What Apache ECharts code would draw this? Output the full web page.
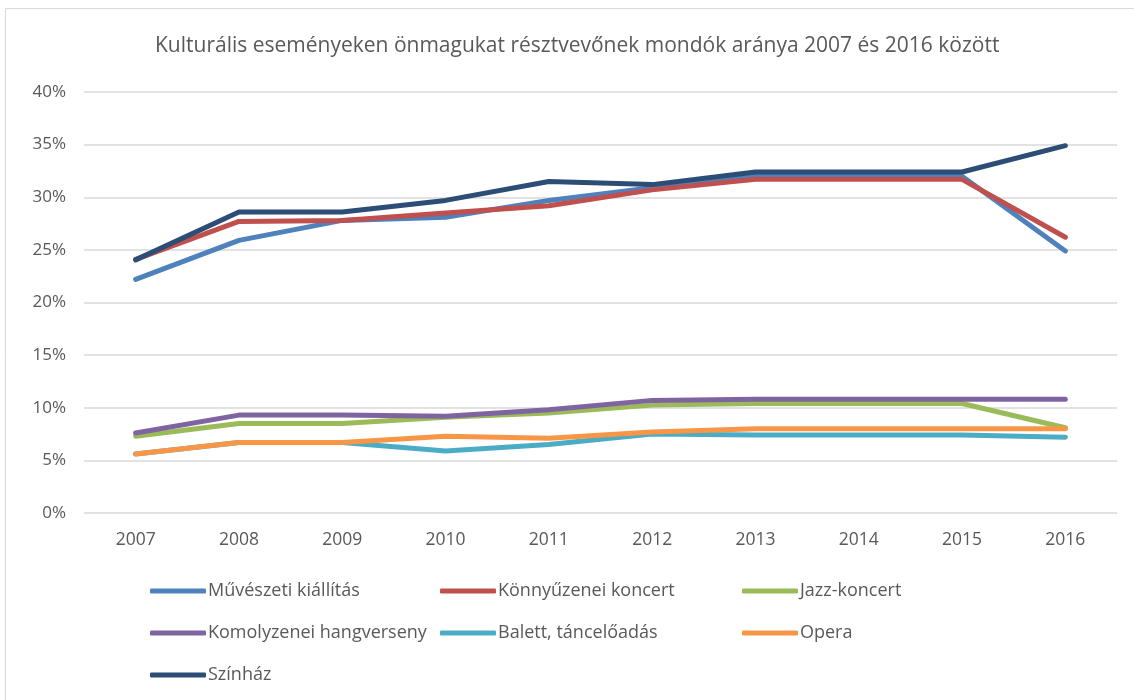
<!DOCTYPE html>
<html>
<head>
<meta charset="utf-8">
<script src="https://cdn.jsdelivr.net/npm/echarts@6/dist/echarts.min.js"></script>
<style>
  html, body { margin: 0; padding: 0; background: #fff; }
  #chart { width: 1134px; height: 700px; }
</style>
</head>
<body>
<div id="chart"></div>
<script>
const years = ['2007', '2008', '2009', '2010', '2011', '2012', '2013', '2014', '2015', '2016']

// értékek százalékban
const muveszeti = [22.2, 25.9, 27.8, 28.1, 29.7, 30.9, 32.0, 32.0, 32.0, 24.9]
const konnyuzenei = [24.1, 27.7, 27.8, 28.5, 29.2, 30.7, 31.7, 31.7, 31.7, 26.2]
const jazz = [7.3, 8.5, 8.5, 9.1, 9.5, 10.25, 10.4, 10.4, 10.4, 8.1]
const komolyzenei = [7.6, 9.3, 9.3, 9.2, 9.8, 10.7, 10.8, 10.8, 10.8, 10.8]
const balett = [5.6, 6.7, 6.7, 5.9, 6.5, 7.5, 7.4, 7.4, 7.4, 7.2]
const opera = [5.6, 6.7, 6.7, 7.3, 7.1, 7.7, 8.0, 8.0, 8.0, 8.0]
const szinhaz = [24.05, 28.6, 28.6, 29.7, 31.5, 31.2, 32.4, 32.4, 32.4, 34.9]

const seriesDefs = [
  { name: 'Művészeti kiállítás', data: muveszeti, color: '#4F81BD' },
  { name: 'Könnyűzenei koncert', data: konnyuzenei, color: '#C0504D' },
  { name: 'Jazz-koncert', data: jazz, color: '#9BBB59' },
  { name: 'Komolyzenei hangverseny', data: komolyzenei, color: '#8064A2' },
  { name: 'Balett, táncelőadás', data: balett, color: '#4BACC6' },
  { name: 'Opera', data: opera, color: '#F79646' },
  { name: 'Színház', data: szinhaz, color: '#2C4D75' }
]

const font = "'Open Sans', sans-serif"
const textColor = '#595959'

const chart = echarts.init(document.getElementById('chart'))

const legendBase = {
  orient: 'vertical',
  top: 582,
  padding: 0,
  itemWidth: 56,
  itemHeight: 5,
  itemGap: 24,
  icon: 'roundRect',
  textStyle: { color: textColor, fontSize: 18, fontFamily: font, padding: [0, 0, 0, -3] }
}

chart.setOption({
  backgroundColor: '#fff',
  animation: false,
  title: {
    text: 'Kulturális eseményeken önmagukat résztvevőnek mondók aránya 2007 és 2016 között',
    left: 150,
    top: 31,
    textStyle: { color: textColor, fontSize: 21, fontWeight: 'normal', fontFamily: font }
  },
  graphic: [{
    type: 'rect',
    shape: { x: 5.5, y: 8.5, width: 1140, height: 700 },
    style: { fill: 'none', stroke: '#d9d9d9', lineWidth: 1 },
    silent: true
  }],
  legend: [
    Object.assign({}, legendBase, { left: 150, data: ['Művészeti kiállítás', 'Komolyzenei hangverseny', 'Színház'] }),
    Object.assign({}, legendBase, { left: 440, data: ['Könnyűzenei koncert', 'Balett, táncelőadás'] }),
    Object.assign({}, legendBase, { left: 742, data: ['Jazz-koncert', 'Opera'] })
  ],
  grid: { left: 84, right: 17, top: 92, bottom: 187 },
  xAxis: {
    type: 'category',
    data: years,
    boundaryGap: true,
    axisLine: { show: false },
    axisTick: { show: false },
    axisLabel: { color: textColor, fontSize: 17.5, fontFamily: font, margin: 18 }
  },
  yAxis: {
    type: 'value',
    min: 0,
    max: 40,
    interval: 5,
    axisLine: { show: false },
    axisTick: { show: false },
    axisLabel: { color: textColor, fontSize: 17, fontFamily: font, margin: 18, formatter: '{value}%' },
    splitLine: { lineStyle: { color: '#d9d9d9', width: 1.5 } }
  },
  series: seriesDefs.map(s => ({
    name: s.name,
    type: 'line',
    data: s.data,
    symbol: 'none',
    color: s.color,
    lineStyle: { width: 5, color: s.color, cap: 'round', join: 'round' }
  }))
})

window.addEventListener('resize', () => chart.resize())
</script>
</body>
</html>
